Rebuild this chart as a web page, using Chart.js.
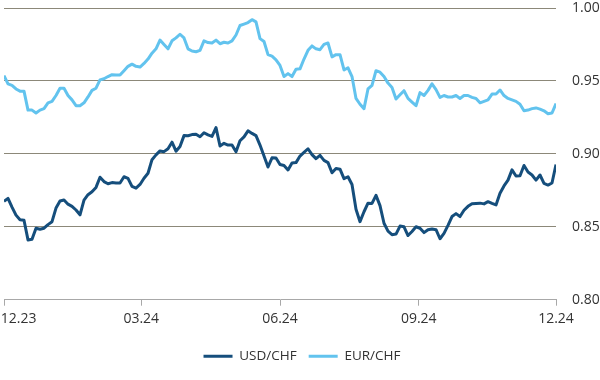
<!DOCTYPE html>
<html><head><meta charset="utf-8">
<script src="https://cdn.jsdelivr.net/npm/chart.js@4/dist/chart.umd.min.js"></script>
<style>html,body{margin:0;padding:0;background:#fff}#wrap{width:600px;height:380px}</style>
</head><body><div id="wrap"><canvas id="c" width="600" height="380"></canvas></div>
<script>
// Period: 01.12.2023 – 01.12.2024 (366 days), sampled evenly
const periodDays = 366;
const usdChf = [
0.8674,0.8695,0.8635,0.858,0.8548,0.8545,0.841,0.8415,0.849,0.8483,
0.849,0.8515,0.8535,0.8628,0.8677,0.8684,0.8655,0.864,0.8615,0.8582,
0.8683,0.872,0.874,0.877,0.884,0.881,0.8795,0.8803,0.880,0.880,
0.8843,0.8832,0.8777,0.8765,0.879,0.8833,0.8867,0.896,0.8993,0.902,
0.9015,0.9035,0.908,0.9018,0.905,0.9125,0.9124,0.9132,0.9134,0.9117,
0.9145,0.913,0.912,0.918,0.9054,0.9072,0.906,0.906,0.9014,0.909,
0.9116,0.9158,0.914,0.9125,0.906,0.8985,0.891,0.8973,0.8972,0.8927,
0.892,0.889,0.8938,0.894,0.8985,0.901,0.9035,0.8995,0.8967,0.899,
0.8955,0.894,0.887,0.890,0.8895,0.883,0.8843,0.879,0.862,0.8535,
0.8603,0.8662,0.866,0.8715,0.8645,0.8524,0.847,0.8446,0.845,0.8505,
0.850,0.844,0.8468,0.850,0.849,0.846,0.848,0.8485,0.848,0.8418,
0.8455,0.851,0.857,0.859,0.857,0.8613,0.864,0.8658,0.866,0.8662,
0.8657,0.8672,0.866,0.865,0.873,0.878,0.882,0.889,0.8848,0.885,
0.892,0.8875,0.8855,0.882,0.8855,0.8797,0.8786,0.880,0.8927
];
const eurChf = [
0.9537,0.948,0.947,0.9445,0.943,0.943,0.930,0.930,0.928,0.930,
0.931,0.935,0.936,0.940,0.945,0.945,0.940,0.937,0.933,0.933,
0.935,0.939,0.9435,0.945,0.9507,0.9515,0.953,0.9543,0.954,0.954,
0.957,0.960,0.9615,0.960,0.9595,0.962,0.965,0.969,0.972,0.978,
0.975,0.972,0.9775,0.9795,0.982,0.9795,0.972,0.9705,0.970,0.971,
0.9775,0.9763,0.976,0.978,0.9755,0.9765,0.976,0.9775,0.9815,0.988,
0.989,0.990,0.992,0.9905,0.979,0.977,0.968,0.967,0.9645,0.9606,
0.953,0.955,0.953,0.958,0.9583,0.965,0.971,0.974,0.972,0.9714,
0.975,0.976,0.9665,0.968,0.968,0.9575,0.959,0.953,0.938,0.934,
0.931,0.9445,0.947,0.957,0.956,0.953,0.9485,0.9455,0.9376,0.9405,
0.9433,0.938,0.9355,0.933,0.942,0.940,0.9435,0.948,0.944,0.9387,
0.940,0.939,0.939,0.940,0.938,0.940,0.940,0.9387,0.938,0.935,
0.936,0.937,0.941,0.941,0.9438,0.940,0.938,0.937,0.936,0.934,
0.9295,0.930,0.931,0.9315,0.9307,0.9295,0.9275,0.928,0.9345
];
const xTickDays = [0, 91, 183, 275, 366];
const xTickLabels = ['12.23', '03.24', '06.24', '09.24', '12.24'];
const yTickValues = [0.80, 0.85, 0.90, 0.95, 1.00];
const seriesNames = ['USD/CHF', 'EUR/CHF'];
const seriesColors = ['#154e7c', '#62c3ee'];

function toPoints(arr) {
  const n = arr.length;
  return arr.map((v, i) => ({ x: i * periodDays / (n - 1), y: v }));
}

const FONT = "'Open Sans', 'Noto Sans', sans-serif";

new Chart(document.getElementById('c'), {
  type: 'line',
  data: {
    datasets: [
      { label: seriesNames[0], data: toPoints(usdChf), borderColor: seriesColors[0], backgroundColor: seriesColors[0], borderWidth: 3, pointRadius: 0, tension: 0, borderJoinStyle: 'round' },
      { label: seriesNames[1], data: toPoints(eurChf), borderColor: seriesColors[1], backgroundColor: seriesColors[1], borderWidth: 3, pointRadius: 0, tension: 0, borderJoinStyle: 'round' }
    ]
  },
  options: {
    responsive: false,
    devicePixelRatio: 1,
    animation: false,
    layout: { padding: { left: 4, top: 8, right: 0, bottom: 7 } },
    plugins: {
      tooltip: { enabled: false },
      legend: {
        position: 'bottom',
        labels: {
          boxWidth: 29, boxHeight: 3, padding: 12, color: '#333',
          font: { family: FONT, size: 13.5 },
          generateLabels(chart) {
            const items = Chart.defaults.plugins.legend.labels.generateLabels(chart);
            items.forEach(it => { it.lineWidth = 0; it.fillStyle = it.strokeStyle; });
            return items;
          }
        }
      }
    },
    scales: {
      x: {
        type: 'linear', min: 0, max: periodDays,
        afterBuildTicks(scale) { scale.ticks = xTickDays.map(v => ({ value: v })); },
        afterFit(scale) { scale.paddingLeft = 0; scale.paddingRight = 0; scale.height += 5; },
        ticks: {
          autoSkip: false, maxRotation: 0, padding: 5, color: '#333',
          font: { family: FONT, size: 14 },
          callback(v, i) { return i === 0 ? '        ' + xTickLabels[i] : xTickLabels[i]; }
        },
        grid: { drawOnChartArea: false, drawTicks: true, tickLength: 6, color: '#a8a8a8' },
        border: { display: true, color: '#a8a8a8', width: 1 }
      },
      y: {
        position: 'right', min: 0.8, max: 1.0,
        afterBuildTicks(scale) { scale.ticks = yTickValues.map(v => ({ value: v })); },
        afterFit(scale) { scale.width = 44; scale.paddingTop = 0; scale.paddingBottom = 0; },
        ticks: {
          padding: 16, color: '#333', font: { family: FONT, size: 14 },
          callback(v) { return Number(v).toFixed(2); }
        },
        grid: {
          drawTicks: false, lineWidth: 1,
          color(ctx) { return ctx.tick && Math.abs(ctx.tick.value - 0.8) < 1e-6 ? 'rgba(0,0,0,0)' : '#8c8879'; }
        },
        border: { display: false }
      }
    }
  }
});
</script></body></html>
